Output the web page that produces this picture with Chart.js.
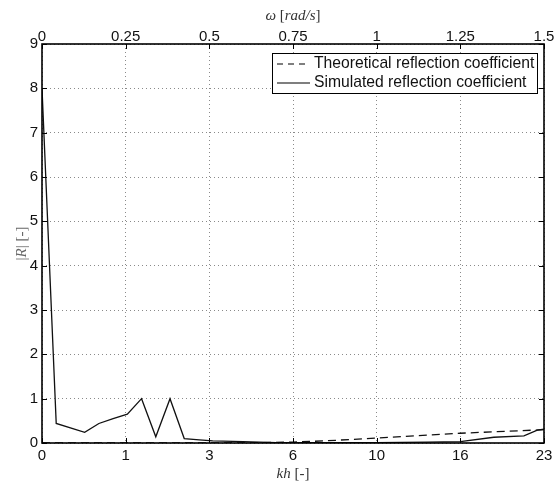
<!DOCTYPE html>
<html>
<head>
<meta charset="utf-8">
<script src="https://cdn.jsdelivr.net/npm/chart.js@4.4.1/dist/chart.umd.min.js"></script>
<style>
  html, body { margin: 0; padding: 0; background: #fff; }
  canvas { display: block; }
</style>
</head>
<body>
<canvas id="reflChart" width="557" height="489"></canvas>
<script>
// omega axis ticks (top) and matching kh labels (bottom)
const omegaTicks = [0, 0.25, 0.5, 0.75, 1, 1.25, 1.5];
const khLabels = ['0', '1', '3', '6', '10', '16', '23'];
const rTicks = [0, 1, 2, 3, 4, 5, 6, 7, 8, 9];

// theoretical |R| vs omega
const theoOmega = [0, 0.3, 0.6, 0.75, 0.85, 1.0, 1.25, 1.5];
const theoR = [0, 0, 0, 0.02, 0.05, 0.11, 0.22, 0.3];

// simulated |R| vs omega
const simOmega = [0, 0.0425, 0.1275, 0.17, 0.2125, 0.255, 0.2975, 0.34, 0.3825, 0.425, 0.47, 0.51, 0.6, 0.7, 0.85, 1.0, 1.15, 1.25, 1.35, 1.44, 1.48, 1.5];
const simR = [8.0, 0.44, 0.24, 0.44, 0.55, 0.65, 1.0, 0.14, 1.0, 0.1, 0.07, 0.05, 0.03, 0.01, 0.01, 0.01, 0.02, 0.03, 0.13, 0.16, 0.29, 0.31];

const sans = "'Liberation Sans', Arial, Helvetica, sans-serif";
const serif = "'Liberation Serif', 'DejaVu Serif', serif";

function pts(xs, ys) {
  return xs.map((x, i) => ({ x: x, y: ys[i] }));
}

function drawParts(ctx, parts, cx, cy) {
  let total = 0;
  parts.forEach(p => { ctx.font = p.f; total += ctx.measureText(p.t).width; });
  let x = cx - total / 2;
  parts.forEach(p => {
    ctx.font = p.f;
    ctx.fillText(p.t, x, cy);
    x += ctx.measureText(p.t).width;
  });
}

const framePlugin = {
  id: 'frame',
  afterDatasetsDraw(chart) {
    const ctx = chart.ctx;
    const a = chart.chartArea;
    const xs = chart.scales.x, ys = chart.scales.y;
    ctx.save();
    // inward tick marks on all four sides
    ctx.strokeStyle = '#000';
    ctx.lineWidth = 1;
    ctx.beginPath();
    omegaTicks.forEach(v => {
      const px = Math.round(xs.getPixelForValue(v)) + 0.5;
      ctx.moveTo(px, a.bottom); ctx.lineTo(px, a.bottom - 5);
      ctx.moveTo(px, a.top); ctx.lineTo(px, a.top + 5);
    });
    rTicks.forEach(v => {
      const py = Math.round(ys.getPixelForValue(v)) + 0.5;
      ctx.moveTo(a.left, py); ctx.lineTo(a.left + 5, py);
      ctx.moveTo(a.right, py); ctx.lineTo(a.right - 5, py);
    });
    ctx.stroke();
    // box
    ctx.lineWidth = 1.6;
    ctx.strokeRect(a.left, a.top, a.right - a.left, a.bottom - a.top);

    // legend
    const lx = 272, ly = 53, lw = 265, lh = 40;
    ctx.fillStyle = '#fff';
    ctx.fillRect(lx, ly, lw, lh);
    ctx.lineWidth = 1;
    ctx.strokeRect(lx + 0.5, ly + 0.5, lw, lh);
    ctx.font = '15.7px ' + sans;
    ctx.fillStyle = '#111';
    ctx.textBaseline = 'middle';
    chart.data.datasets.forEach((ds, i) => {
      const y = ly + 11 + i * 19;
      ctx.beginPath();
      ctx.setLineDash(ds.borderDash ? [6, 5] : []);
      ctx.lineWidth = 1.2;
      ctx.moveTo(lx + 5, y); ctx.lineTo(lx + 38, y);
      ctx.stroke();
      ctx.setLineDash([]);
      ctx.fillText(ds.label, lx + 42, y);
    });

    // axis titles (LaTeX style)
    ctx.fillStyle = '#333';
    ctx.textBaseline = 'middle';
    const cx = (a.left + a.right) / 2;
    drawParts(ctx, [
      { t: 'ω ', f: 'italic 15px ' + serif },
      { t: '[', f: '15px ' + serif },
      { t: 'rad/s', f: 'italic 15px ' + serif },
      { t: ']', f: '15px ' + serif }
    ], cx, 16);
    drawParts(ctx, [
      { t: 'kh ', f: 'italic 15px ' + serif },
      { t: '[-]', f: '15px ' + serif }
    ], cx, 474);
    ctx.translate(22, (a.top + a.bottom) / 2);
    ctx.rotate(-Math.PI / 2);
    ctx.fillStyle = '#666';
    drawParts(ctx, [
      { t: '|', f: '15px ' + serif },
      { t: 'R', f: 'italic 15px ' + serif },
      { t: '| [-]', f: '15px ' + serif }
    ], 0, 0);
    ctx.restore();
  }
};

const gridLine = {
  color: '#8a8a8a',
  lineWidth: 1,
  drawTicks: false,
};
const dotted = { display: false, dash: [1, 3] };

let reflConfig = {
  type: 'line',
  data: {
    datasets: [{
      label: 'Theoretical reflection coefficient',
      data: pts(theoOmega, theoR),
      borderColor: '#111',
      borderWidth: 1.3,
      borderDash: [8, 5],
      pointRadius: 0,
      tension: 0,
    }, {
      label: 'Simulated reflection coefficient',
      data: pts(simOmega, simR),
      borderColor: '#111',
      borderWidth: 1.3,
      pointRadius: 0,
      tension: 0,
    }],
  },
  options: {
    responsive: false,
    animation: false,
    layout: { padding: 0 },
    plugins: {
      legend: { display: false },
      tooltip: { enabled: false },
    },
    scales: {
      x: {
        type: 'linear',
        position: 'bottom',
        min: 0,
        max: 1.5,
        afterBuildTicks: s => { s.ticks = omegaTicks.map(v => ({ value: v })); },
        afterFit: s => { s.height = 46; },
        grid: gridLine,
        border: dotted,
        ticks: {
          padding: 4,
          maxRotation: 0,
          color: '#111',
          font: { family: sans, size: 15 },
          callback: (v, i) => khLabels[i],
        },
      },
      x2: {
        type: 'linear',
        position: 'top',
        min: 0,
        max: 1.5,
        afterBuildTicks: s => { s.ticks = omegaTicks.map(v => ({ value: v })); },
        afterFit: s => { s.height = 44; },
        grid: { display: false },
        border: { display: false },
        ticks: {
          padding: -10,
          maxRotation: 0,
          color: '#111',
          font: { family: sans, size: 15 },
          callback: v => String(v),
        },
      },
      y: {
        min: 0,
        max: 9,
        afterBuildTicks: s => { s.ticks = rTicks.map(v => ({ value: v })); },
        afterFit: s => { s.width = 42; },
        grid: gridLine,
        border: dotted,
        ticks: {
          padding: 4,
          color: '#111',
          font: { family: sans, size: 15 },
        },
      },
      y2: {
        position: 'right',
        min: 0,
        max: 9,
        afterFit: s => { s.width = 13; },
        grid: { display: false },
        border: { display: false },
        ticks: { display: false },
      },
    },
  },
  plugins: [framePlugin],
};

window.reflChartInstance = new Chart(document.getElementById('reflChart'), reflConfig);
</script>
</body>
</html>
